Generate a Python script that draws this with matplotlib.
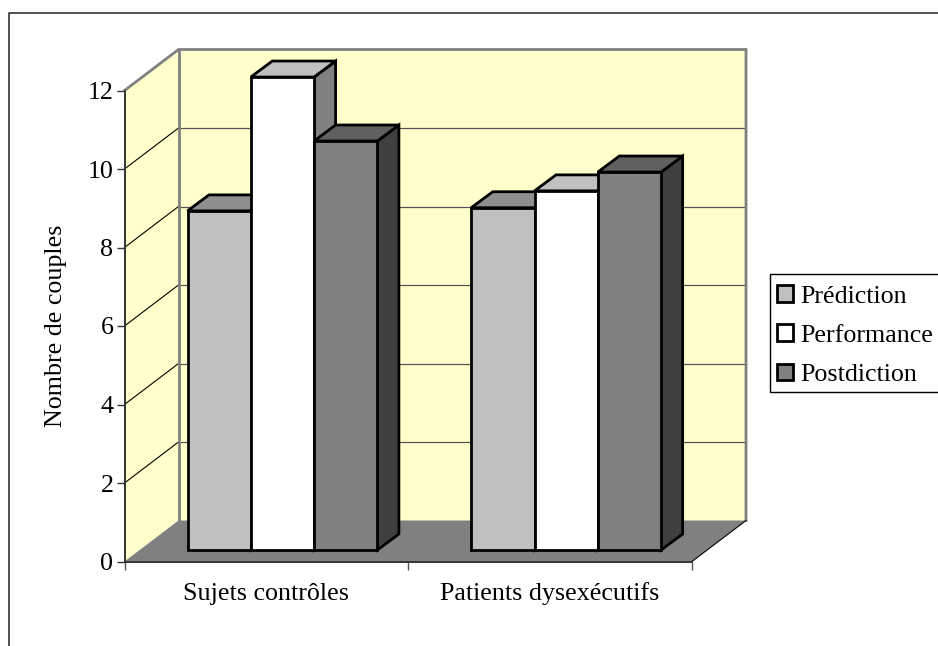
import matplotlib
matplotlib.use('Agg')
import matplotlib.pyplot as plt
from matplotlib.lines import Line2D
from matplotlib.patches import Patch, Polygon, Rectangle

plt.rcParams['font.family'] = ['Liberation Serif', 'DejaVu Serif']

# Data
categories = ['Sujets contrôles', 'Patients dysexécutifs']
series_names = ['Prédiction', 'Performance', 'Postdiction']
prediction = [8.64, 8.72]
performance = [12.05, 9.15]
postdiction = [10.42, 9.63]
y_ticks = [0, 2, 4, 6, 8, 10, 12]

# Face colours of each series: front, top, side
colors = [('#C0C0C0', '#8E8E8E', '#8E8E8E'),
          ('#FFFFFF', '#C0C0C0', '#808080'),
          ('#808080', '#606060', '#404040')]

W, H = 938, 646
fig = plt.figure(figsize=(W / 100, H / 100), dpi=100, facecolor='white')

# Front plane of the 3D box, in pixels
left, right, bottom, top = 124.5, 692, 561.5, 90.5
ax = fig.add_axes([left / W, 1 - bottom / H, (right - left) / W, (bottom - top) / H])
ax.set_xlim(0, 2)
ax.set_ylim(0, 12)
ax.patch.set_visible(False)

px_x = (right - left) / 2
px_y = (bottom - top) / 12

# 3D offsets in data units
wall_dx, wall_dy = 54 / px_x, 41 / px_y
bar_dx, bar_dy = 21.5 / px_x, 16 / px_y
bar_w = 63.3 / px_x
bar_start = 63 / px_x
bar_base = 11.5 / px_y


def poly(pts, face, edge='none', lw=0, z=1):
    ax.add_patch(Polygon(pts, closed=True, facecolor=face, edgecolor=edge, linewidth=lw,
                         joinstyle='miter', clip_on=False, zorder=z))


# Walls and floor
ymax = y_ticks[-1]
poly([(wall_dx, wall_dy), (2 + wall_dx, wall_dy), (2 + wall_dx, ymax + wall_dy), (wall_dx, ymax + wall_dy)], '#FFFFCC', z=1)
poly([(0, 0), (wall_dx, wall_dy), (wall_dx, ymax + wall_dy), (0, ymax)], '#FFFFCC', z=1)
poly([(0, 0), (2, 0), (2 + wall_dx, wall_dy), (wall_dx, wall_dy)], '#808080', z=2)

# Gridlines
for v in y_ticks[1:-1]:
    ax.plot([0, wall_dx], [v, v + wall_dy], color='black', lw=0.8, clip_on=False, zorder=3)
    ax.plot([wall_dx, 2 + wall_dx], [v + wall_dy, v + wall_dy], color='#555555', lw=0.9, clip_on=False, zorder=3)

# Wall borders
ax.plot([0, wall_dx, 2 + wall_dx, 2 + wall_dx], [ymax, ymax + wall_dy, ymax + wall_dy, wall_dy],
        color='#808080', lw=2, clip_on=False, zorder=3, solid_joinstyle='miter')
ax.plot([wall_dx, wall_dx], [wall_dy, ymax + wall_dy], color='#808080', lw=2, clip_on=False, zorder=3)
ax.plot([2, 2 + wall_dx], [0, wall_dy], color='black', lw=0.8, clip_on=False, zorder=3)

# Bars
z = 4
for c in range(len(categories)):
    for s, values in enumerate([prediction, performance, postdiction]):
        x0 = c + bar_start + s * bar_w
        x1 = x0 + bar_w
        y0 = bar_base
        y1 = bar_base + values[c]
        front, top_c, side = colors[s]
        poly([(x1, y0), (x1 + bar_dx, y0 + bar_dy), (x1 + bar_dx, y1 + bar_dy), (x1, y1)], side, 'black', 2, z)
        poly([(x0, y1), (x1, y1), (x1 + bar_dx, y1 + bar_dy), (x0 + bar_dx, y1 + bar_dy)], top_c, 'black', 2, z)
        poly([(x0, y0), (x1, y0), (x1, y1), (x0, y1)], front, 'black', 2, z)
        z += 1

# Axes
for name in ['top', 'right']:
    ax.spines[name].set_visible(False)
ax.spines['left'].set_color('#333333')
ax.spines['left'].set_linewidth(1.4)
ax.spines['bottom'].set_color('#333333')
ax.spines['bottom'].set_linewidth(1.4)
ax.spines['left'].set_zorder(30)
ax.spines['bottom'].set_zorder(30)
ax.set_yticks(y_ticks)
ax.set_xticks([0, 1, 2])
ax.set_xticklabels([])
ax.set_xticks([0.5, 1.5], minor=True)
ax.set_xticklabels(categories, minor=True, fontsize=18.7, va='baseline')
ax.tick_params(axis='x', which='major', length=6, width=1, color='#555555')
ax.tick_params(axis='x', which='minor', length=0, pad=28)
ax.tick_params(axis='y', length=6, width=1, color='#333333', labelsize=18.7, pad=2)
ax.set_ylabel('Nombre de couples', fontsize=18.7, va='center')
ax.yaxis.set_label_coords((56 - left) / (right - left), 0.5, transform=ax.transAxes)

# Legend box runs off the right edge, so it is drawn apart from the entries
fig.add_artist(Rectangle((769.5 / W, 1 - 391.5 / H), 180 / W, 117.5 / H, transform=fig.transFigure,
                         facecolor='white', edgecolor='black', linewidth=1))
handles = [Patch(facecolor=colors[i][0], edgecolor='black', linewidth=2) for i in range(3)]
leg = fig.legend(handles, series_names, loc='upper left', bbox_to_anchor=(769 / W, 1 - 277.5 / H),
                 fontsize=18.7, frameon=False,
                 handlelength=0.62, handleheight=0.62, handletextpad=0.3, labelspacing=0.64,
                 borderpad=0.3, borderaxespad=0)

# Outer frame, open on the right and at the bottom
fig.add_artist(Line2D([8.5 / W, 8.5 / W, 1], [0, 1 - 13 / H, 1 - 13 / H], transform=fig.transFigure,
                      color='#333333', lw=1.2))

fig.savefig('out.png', dpi=100)
